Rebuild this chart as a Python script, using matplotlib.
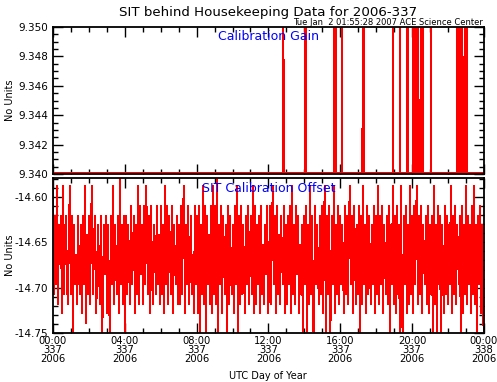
import numpy as np
import matplotlib.pyplot as plt
from matplotlib.ticker import MultipleLocator, FormatStrFormatter

# ---- data -------------------------------------------------------------------
# gain: flat at the base value, single-sample jumps (off scale) at these hours
gain_base = 9.34008
gain_spike = 9.36
gain_spike_hours = [12.83, 14.06, 15.66, 15.75, 16.09, 17.25, 17.33,
                    18.94, 19.33, 19.75, 20.04, 20.19, 20.33, 20.48,
                    20.62, 21.04, 22.50, 22.64, 22.80, 22.94, 23.06]

# offset: raw counts, 18 samples per hour
offset_zero = -14.7608
offset_step = 0.0108
offset_counts = [
    17, 5, 13, 6, 16, 4, 12, 9, 13, 3, 16, 5, 11, 13, 6, 4, 12, 16,
    5, 13, 0, 12, 6, 9, 4, 13, 7, 5, 12, 3, 13, 6, 16, 2, 11, 5,
    13, 4, 12, 16, 5, 10, 13, 3, 6, 12, 8, 4, 13, 0, 5, 12, 7, 13,
    3, 12, 5, 1, 13, 6, 16, 4, 12, 8, 5, 13, 3, 17, 6, 12, 4, 13,
    0, 13, 5, 12, 9, 4, 14, 6, 9, 13, 3, 12, 5, 16, 4, 14, 7, 12,
    4, 14, 6, 16, 12, 5, 13, 3, 14, 7, 4, 12, 10, 5, 14, 6, 11, 4,
    14, 5, 12, 3, 16, 6, 14, 4, 13, 10, 5, 14, 3, 12, 8, 6, 13, 4,
    12, 4, 14, 5, 13, 16, 3, 12, 6, 14, 4, 8, 13, 5, 9, 3, 14, 6,
    13, 3, 14, 0, 12, 5, 16, 4, 14, 0, 13, 6, 11, 4, 14, 3, 16, 5,
    14, 4, 17, 0, 12, 6, 14, 3, 13, 9, 5, 12, 0, 14, 4, 13, 7, 5,
    12, 3, 14, 6, 16, 0, 13, 4, 14, 5, 12, 8, 3, 13, 6, 14, 4, 9,
    13, 5, 16, 3, 14, 4, 12, 6, 13, 3, 14, 5, 10, 4, 12, 7, 14, 3,
    5, 14, 4, 12, 16, 6, 13, 3, 14, 5, 11, 4, 13, 9, 6, 14, 3, 12,
    4, 13, 6, 14, 3, 16, 5, 12, 4, 14, 7, 13, 3, 10, 5, 12, 0, 13,
    6, 14, 1, 12, 4, 16, 5, 13, 3, 0, 14, 6, 12, 8, 4, 13, 5, 14,
    3, 12, 16, 0, 13, 5, 14, 0, 4, 13, 6, 16, 3, 12, 5, 14, 4, 13,
    6, 12, 9, 3, 14, 5, 13, 4, 12, 16, 6, 13, 3, 14, 10, 4, 12, 5,
    14, 0, 13, 4, 16, 6, 12, 3, 14, 5, 13, 8, 4, 12, 6, 14, 3, 13,
    5, 16, 4, 13, 6, 14, 3, 12, 9, 5, 13, 4, 14, 0, 12, 6, 16, 4,
    13, 3, 14, 5, 12, 0, 16, 4, 0, 13, 6, 14, 3, 12, 4, 16, 5, 13,
    3, 14, 6, 12, 16, 4, 13, 5, 14, 3, 12, 9, 6, 13, 4, 14, 3, 12,
    5, 13, 0, 16, 4, 12, 0, 14, 6, 13, 1, 12, 8, 3, 14, 5, 13, 4,
    12, 6, 16, 3, 13, 5, 14, 4, 12, 10, 6, 13, 0, 14, 3, 12, 5, 16,
    4, 13, 6, 12, 3, 14, 5, 16, 4, 12, 0, 13, 6, 14, 3, 12, 5, 0,
]

tick_hours = [0, 4, 8, 12, 16, 20, 24]
tick_labels = ["00:00\n337\n2006", "04:00\n337\n2006", "08:00\n337\n2006",
               "12:00\n337\n2006", "16:00\n337\n2006", "20:00\n337\n2006",
               "00:00\n338\n2006"]

# ---- series -----------------------------------------------------------------
dt = 1.0 / 240
gain_t = [0.0]
gain_v = [gain_base]
for h in gain_spike_hours:
    gain_t += [h - dt, h, h + dt]
    gain_v += [gain_base, gain_spike, gain_base]
gain_t.append(24.0)
gain_v.append(gain_base)

offset_v = offset_zero + offset_step * np.array(offset_counts)
offset_t = np.linspace(0, 24, len(offset_v))

# ---- figure -----------------------------------------------------------------
plt.rcParams["font.family"] = ["DejaVu Sans"]
fig = plt.figure(figsize=(4.97, 3.82), dpi=100, facecolor="white")

ax1 = fig.add_axes([0.1066, 0.5445, 0.867, 0.3848])
ax2 = fig.add_axes([0.1066, 0.1283, 0.867, 0.4058])

ax1.plot(gain_t, gain_v, color="red", lw=0.9, antialiased=False)
ax1.set_ylim(9.340, 9.350)
ax1.yaxis.set_major_locator(MultipleLocator(0.002))
ax1.yaxis.set_minor_locator(MultipleLocator(0.0005))
ax1.yaxis.set_major_formatter(FormatStrFormatter("%.3f"))
ax1.text(0.5, 0.935, "Calibration Gain", transform=ax1.transAxes,
         ha="center", va="center", color="blue", fontsize=9)

ax2.plot(offset_t, offset_v, color="red", lw=0.75, antialiased=False)
ax2.set_ylim(-14.75, -14.579)
ax2.yaxis.set_major_locator(MultipleLocator(0.05))
ax2.yaxis.set_minor_locator(MultipleLocator(0.01))
ax2.yaxis.set_major_formatter(FormatStrFormatter("%.2f"))
ax2.text(0.5, 0.935, "SIT Calibration Offset", transform=ax2.transAxes,
         ha="center", va="center", color="blue", fontsize=9)

for ax in (ax1, ax2):
    ax.set_xlim(0, 24)
    ax.set_xticks(tick_hours)
    ax.xaxis.set_minor_locator(MultipleLocator(1))
    ax.tick_params(which="both", direction="in", top=True, right=True,
                   width=1.0, labelsize=7.5, colors="black")
    ax.tick_params(which="major", length=7)
    ax.tick_params(which="minor", length=3.5)
    for s in ax.spines.values():
        s.set_linewidth(1.3)

ax1.set_xticklabels([])
ax2.set_xticklabels(tick_labels, linespacing=0.9, fontsize=7.2)
ax2.tick_params(axis="x", pad=2)

fig.text(0.539, 0.968, "SIT behind Housekeeping Data for 2006-337",
         ha="center", va="center", fontsize=9.6)
fig.text(0.972, 0.940, "Tue Jan  2 01:55:28 2007 ACE Science Center",
         ha="right", va="center", fontsize=6)
fig.text(0.021, 0.737, "No Units", rotation=90, ha="center", va="center",
         fontsize=7)
fig.text(0.021, 0.331, "No Units", rotation=90, ha="center", va="center",
         fontsize=7)
fig.text(0.539, 0.016, "UTC Day of Year", ha="center", va="center",
         fontsize=7)

fig.savefig("out.png", dpi=100, facecolor="white")
